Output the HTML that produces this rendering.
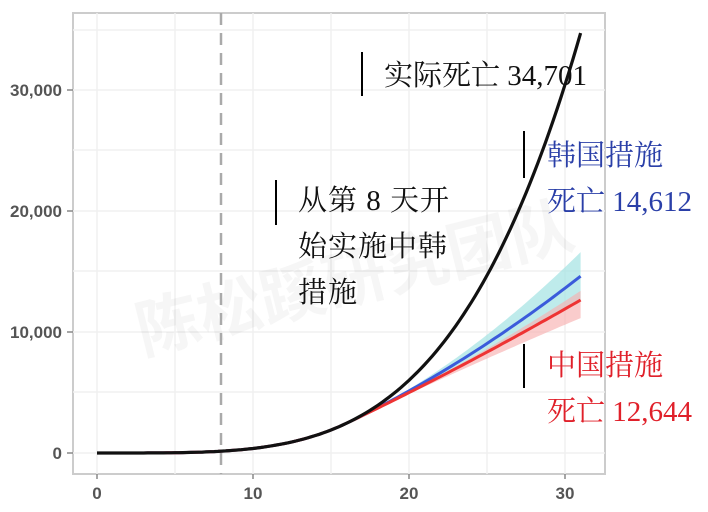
<!DOCTYPE html>
<html><head><meta charset="utf-8"><style>
html,body{margin:0;padding:0;background:#fff;width:708px;height:512px;overflow:hidden}
svg{display:block}
.ax{font-family:"Liberation Sans",sans-serif;font-weight:bold;font-size:17px;fill:#555}
.t{font-family:"Liberation Serif","Noto Serif CJK SC",serif;font-size:29px}
</style></head><body>
<svg id="s" width="708" height="512" viewBox="0 0 708 512" xmlns="http://www.w3.org/2000/svg">
<rect x="73" y="13" width="532" height="461" fill="#fff" stroke="#ccc" stroke-width="2"/>
<g stroke="#f0f0f0" stroke-width="1.5">
<line x1="73" x2="605" y1="453" y2="453"/><line x1="73" x2="605" y1="332" y2="332"/><line x1="73" x2="605" y1="211" y2="211"/><line x1="73" x2="605" y1="90" y2="90"/>
<line x1="73" x2="605" y1="392" y2="392"/><line x1="73" x2="605" y1="271" y2="271"/><line x1="73" x2="605" y1="150" y2="150"/><line x1="73" x2="605" y1="30" y2="30"/>
<line x1="97" x2="97" y1="13" y2="474"/><line x1="253" x2="253" y1="13" y2="474"/><line x1="409" x2="409" y1="13" y2="474"/><line x1="565" x2="565" y1="13" y2="474"/>
<line x1="175" x2="175" y1="13" y2="474"/><line x1="331" x2="331" y1="13" y2="474"/><line x1="487" x2="487" y1="13" y2="474"/>
</g>
<text x="360" y="300" transform="rotate(-14 360 300)" text-anchor="middle" font-family="'Noto Sans CJK SC',sans-serif" font-weight="bold" font-size="64" fill="#000" opacity="0.03">陈松蹊研究团队</text>
<line x1="221" x2="221" y1="13" y2="474" stroke="#aaa" stroke-width="2.5" stroke-dasharray="12,8"/>
<path id="cb" fill="#a8e4e4" opacity="0.75"/>
<path id="rb" fill="#f7b0b0" opacity="0.65"/>
<path id="bl" fill="none" stroke="#3b5bdb" stroke-width="3"/>
<path id="rl" fill="none" stroke="#ee3333" stroke-width="3"/>
<path id="al" fill="none" stroke="#111" stroke-width="3.2"/>
<g class="ax" text-anchor="end">
<text x="62" y="459">0</text><text x="62" y="338">10,000</text><text x="62" y="217">20,000</text><text x="62" y="96">30,000</text>
</g>
<g stroke="#888" stroke-width="1.5">
<line x1="67" x2="73" y1="453" y2="453"/><line x1="67" x2="73" y1="332" y2="332"/><line x1="67" x2="73" y1="211" y2="211"/><line x1="67" x2="73" y1="90" y2="90"/>
<line x1="97" x2="97" y1="474" y2="479"/><line x1="253" x2="253" y1="474" y2="479"/><line x1="409" x2="409" y1="474" y2="479"/><line x1="565" x2="565" y1="474" y2="479"/>
</g>
<g class="ax" text-anchor="middle">
<text x="97" y="499">0</text><text x="253" y="499">10</text><text x="409" y="499">20</text><text x="565" y="499">30</text>
</g>
<g stroke="#000" stroke-width="2">
<line x1="362" x2="362" y1="52" y2="96"/><line x1="276" x2="276" y1="180" y2="225"/>
<line x1="524" x2="524" y1="131" y2="178"/><line x1="524" x2="524" y1="344" y2="388"/>
</g>
<text class="t" x="384" y="85" fill="#111">实际死亡 34,701</text>
<text class="t" x="298" y="210" fill="#111" font-size="27" letter-spacing="1">从第 8 天开</text>
<text class="t" x="298" y="256" fill="#111" font-size="27" letter-spacing="1">始实施中韩</text>
<text class="t" x="298" y="302" fill="#111" font-size="27" letter-spacing="1">措施</text>
<text class="t" x="547" y="165" fill="#2a3fa8">韩国措施</text>
<text class="t" x="547" y="211" fill="#2a3fa8">死亡 14,612</text>
<text class="t" x="547" y="375" fill="#e0202a">中国措施</text>
<text class="t" x="547" y="421" fill="#e0202a">死亡 12,644</text>
</svg>
<script>
function X(t){return 97+15.6*t}
function Y(v){return 453-v*0.0121}
function A(t){return 34701*Math.pow(t/31,4)}
function Q(t,end){if(t<=16)return A(t);var u=t-16;var a=(end-2462-615*15)/225;return 2462+615*u+a*u*u}
function line(f){var s="";for(var t=0;t<=31.001;t+=0.25){s+=(t?"L":"M")+X(t).toFixed(1)+","+Y(f(t)).toFixed(1)}return s}
function band(lo,hi){var s="",t;for(t=14;t<=31.001;t+=0.25)s+=(t==14?"M":"L")+X(t).toFixed(1)+","+Y(Q(t,hi)).toFixed(1);for(t=31;t>=14;t-=0.25)s+="L"+X(t).toFixed(1)+","+Y(Q(t,lo)).toFixed(1);return s+"Z"}
document.getElementById("al").setAttribute("d",line(A));
document.getElementById("bl").setAttribute("d",line(function(t){return Q(t,14612)}));
document.getElementById("rl").setAttribute("d",line(function(t){return Q(t,12644)}));
document.getElementById("cb").setAttribute("d",band(12500,16600));
document.getElementById("rb").setAttribute("d",band(11150,13400));
</script>
</body></html>
